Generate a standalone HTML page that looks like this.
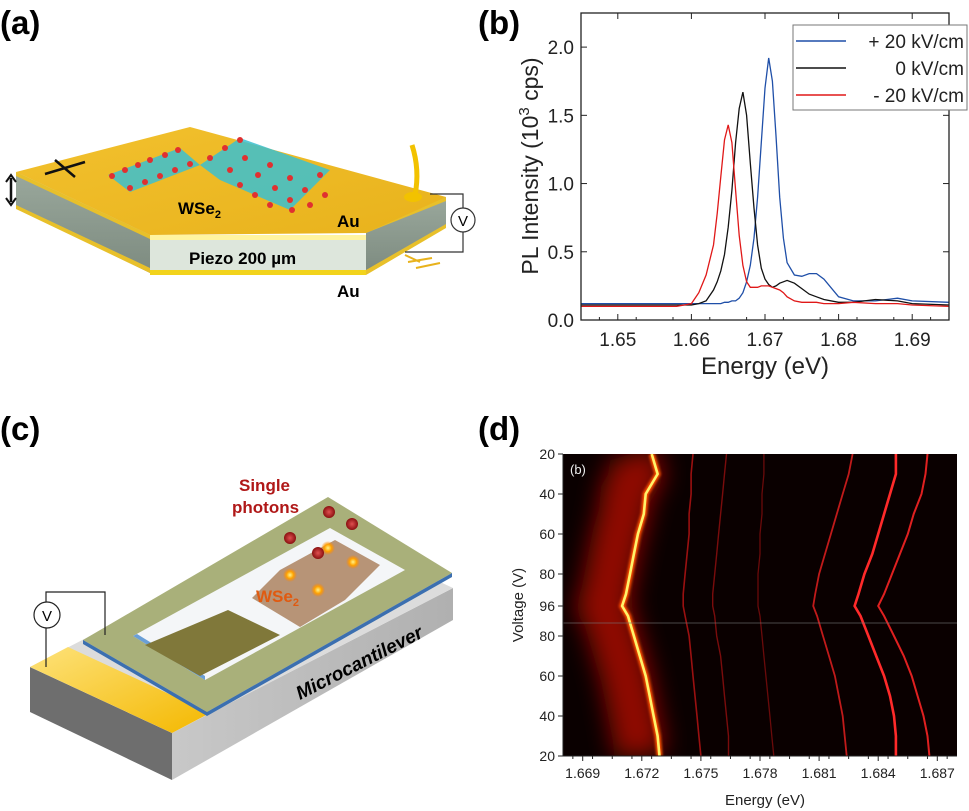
<!DOCTYPE html>
<html><head><meta charset="utf-8"><style>
html,body{margin:0;padding:0;background:#fff;}
svg{display:block;font-family:"Liberation Sans",Arial,sans-serif;}
</style></head><body>
<svg id="fig" width="969" height="811" viewBox="0 0 969 811" xmlns="http://www.w3.org/2000/svg">
<defs>
<filter id="blur2" filterUnits="userSpaceOnUse" x="480" y="400" width="489" height="411"><feGaussianBlur stdDeviation="1.2"/></filter>
<filter id="blur8" filterUnits="userSpaceOnUse" x="480" y="400" width="489" height="411"><feGaussianBlur stdDeviation="12"/></filter>
<linearGradient id="gold" x1="0" y1="0" x2="1" y2="1"><stop offset="0" stop-color="#f2c12e"/><stop offset="1" stop-color="#e8b21c"/></linearGradient>
<linearGradient id="side" x1="0" y1="0" x2="0" y2="1"><stop offset="0" stop-color="#9aa89c"/><stop offset="1" stop-color="#7d8b80"/></linearGradient>
<linearGradient id="grey" x1="0" y1="0" x2="1" y2="0"><stop offset="0" stop-color="#c8c8c8"/><stop offset="1" stop-color="#b0b0b0"/></linearGradient>
<linearGradient id="goldc" x1="0" y1="0" x2="1" y2="1"><stop offset="0" stop-color="#fde27a"/><stop offset="1" stop-color="#f4b800"/></linearGradient>
<radialGradient id="glowdot"><stop offset="0" stop-color="#fff38a"/><stop offset="0.5" stop-color="#ffa200"/><stop offset="1" stop-color="#ff8000" stop-opacity="0"/></radialGradient>
<radialGradient id="photon"><stop offset="0" stop-color="#e05050"/><stop offset="1" stop-color="#8a1010"/></radialGradient>
</defs>

<text x="0" y="34" font-size="33" font-weight="bold">(a)</text>
<text x="478" y="34" font-size="33" font-weight="bold">(b)</text>
<text x="0" y="440" font-size="33" font-weight="bold">(c)</text>
<text x="478" y="440" font-size="33" font-weight="bold">(d)</text>

<g>
  <polygon points="16,172 150,235 150,273 16,208" fill="url(#side)"/>
  <polygon points="16,172 150,235 150,239 16,176" fill="#e8c02a"/>
  <polygon points="16,205 150,268 150,273 16,209" fill="#e8c02a"/>
  <rect x="150" y="235" width="216" height="40" fill="#dde6dc"/>
  <rect x="150" y="235" width="216" height="5" fill="#fff4a0"/>
  <rect x="150" y="270" width="216" height="5" fill="#f2d31c"/>
  <polygon points="366,229 446,197 446,227 366,273" fill="url(#side)"/>
  <polygon points="366,229 446,197 446,201 366,233" fill="#e8c02a"/>
  <polygon points="366,270 446,224 446,228 366,275" fill="#e8c02a"/>
  <polygon points="16,172 190,127 446,197 366,233 150,235" fill="url(#gold)"/>
  <g>
    <polygon points="108,175 180,148 200,165 130,192" fill="#3bbfd0" opacity="0.85"/>
    <polygon points="200,165 240,138 330,170 290,210 220,180" fill="#3bbfd0" opacity="0.85"/>
    <g fill="#e03030">
      <circle cx="112" cy="176" r="3"/><circle cx="125" cy="170" r="3"/><circle cx="138" cy="165" r="3"/><circle cx="150" cy="160" r="3"/><circle cx="165" cy="155" r="3"/><circle cx="178" cy="150" r="3"/>
      <circle cx="130" cy="188" r="3"/><circle cx="145" cy="182" r="3"/><circle cx="160" cy="176" r="3"/><circle cx="175" cy="170" r="3"/><circle cx="190" cy="164" r="3"/>
      <circle cx="210" cy="158" r="3"/><circle cx="225" cy="148" r="3"/><circle cx="240" cy="140" r="3"/><circle cx="230" cy="170" r="3"/><circle cx="245" cy="158" r="3"/>
      <circle cx="240" cy="185" r="3"/><circle cx="258" cy="175" r="3"/><circle cx="270" cy="165" r="3"/><circle cx="255" cy="195" r="3"/><circle cx="275" cy="188" r="3"/>
      <circle cx="290" cy="178" r="3"/><circle cx="270" cy="205" r="3"/><circle cx="290" cy="200" r="3"/><circle cx="305" cy="190" r="3"/><circle cx="320" cy="175" r="3"/>
      <circle cx="292" cy="210" r="3"/><circle cx="310" cy="205" r="3"/><circle cx="325" cy="195" r="3"/>
    </g>
  </g>
  <text x="178" y="214" font-size="17" font-weight="bold">WSe<tspan font-size="11" dy="4">2</tspan></text>
  <text x="337" y="227" font-size="17" font-weight="bold">Au</text>
  <text x="189" y="264" font-size="17" font-weight="bold">Piezo 200 µm</text>
  <text x="337" y="297" font-size="17" font-weight="bold">Au</text>
  <path d="M412,145 Q420,170 415,195" stroke="#f2c200" stroke-width="5" fill="none"/>
  <ellipse cx="413" cy="197" rx="9" ry="5" fill="#f2c200"/>
  <path d="M430,194 H463 V252 H405" stroke="#333" stroke-width="1.2" fill="none"/>
  <circle cx="463" cy="220" r="12" fill="#fff" stroke="#333" stroke-width="1.2"/>
  <text x="463" y="226" font-size="15" text-anchor="middle">V</text>
  <path d="M405,255 L420,262 M408,262 L432,258 M416,268 L440,263" stroke="#e8b21c" stroke-width="2"/>
  <path d="M45,174 L85,162 M55,160 L75,177" stroke="#111" stroke-width="2.5"/>
  <path d="M11,178 V202" stroke="#111" stroke-width="2.5"/>
  <path d="M6,182 L11,175 L16,182 M6,198 L11,205 L16,198" stroke="#111" stroke-width="2" fill="none"/>
</g>

<g>
  <polygon points="30,667 172,733 172,780 30,712" fill="#6e6e6e"/>
  <polygon points="172,733 453,588 453,620 172,780" fill="url(#grey)"/>
  <polygon points="30,667 172,733 453,588 311,522" fill="#dcdcdc"/>
  <polygon points="30,667 172,733 210,713 68,647" fill="url(#goldc)"/>
  <polygon points="83,640 207,712 452,573 328,497" fill="#a9b07a"/>
  <polygon points="83,640 207,712 207,716 83,644" fill="#3b6fb0"/>
  <polygon points="207,712 452,573 452,577 207,716" fill="#3b6fb0"/>
  <polygon points="133,636 205,680 405,570 330,528" fill="#f4f6f8"/>
  <polygon points="133,636 205,680 205,676 137,634" fill="#6a9fd6"/>
  <polygon points="145,645 200,676 280,635 228,610" fill="#80783a"/>
  <polygon points="252,598 300,627 345,600 380,565 335,540 280,570" fill="#b08a68" opacity="0.9"/>
  <text x="239" y="491" font-size="17" font-weight="bold" fill="#b01818">Single</text>
  <text x="232" y="513" font-size="17" font-weight="bold" fill="#b01818">photons</text>
  <text x="256" y="602" font-size="17" font-weight="bold" fill="#e05a10">WSe<tspan font-size="11" dy="4">2</tspan></text>
  <circle cx="290" cy="575" r="7" fill="url(#glowdot)"/><circle cx="318" cy="590" r="7" fill="url(#glowdot)"/>
  <circle cx="328" cy="548" r="7" fill="url(#glowdot)"/><circle cx="353" cy="562" r="7" fill="url(#glowdot)"/>
  <circle cx="290" cy="538" r="6" fill="url(#photon)"/><circle cx="318" cy="553" r="6" fill="url(#photon)"/>
  <circle cx="329" cy="512" r="6" fill="url(#photon)"/><circle cx="352" cy="524" r="6" fill="url(#photon)"/>
  <text transform="translate(300,700) rotate(-27)" font-size="19" font-weight="bold" font-style="italic">Microcantilever</text>
  <path d="M46,667 V592 H105 V635" stroke="#222" stroke-width="1.2" fill="none"/>
  <circle cx="47" cy="615" r="13" fill="#fff" stroke="#222" stroke-width="1.2"/>
  <text x="47" y="621" font-size="15" text-anchor="middle">V</text>
</g>

<g id="panelB"></g>
<g id="panelD"></g>
</svg>

<script>
const energiesB = [1.645,1.650,1.655,1.658,1.660,1.661,1.662,1.663,1.6635,1.664,1.6645,1.665,1.6655,1.666,1.6665,1.667,1.6675,1.668,1.6685,1.669,1.6695,1.670,1.6705,1.671,1.6715,1.672,1.6725,1.673,1.674,1.675,1.676,1.677,1.678,1.680,1.682,1.685,1.688,1.690,1.695];
const plPos20 = [.12,.12,.12,.12,.12,.12,.12,.12,.12,.12,.13,.13,.14,.14,.16,.20,.28,.40,.60,.90,1.30,1.70,1.92,1.75,1.35,.90,.60,.42,.33,.32,.34,.34,.30,.17,.14,.14,.16,.14,.13];
const plZero  = [.11,.11,.11,.11,.11,.12,.14,.22,.28,.36,.48,.68,.95,1.30,1.55,1.67,1.50,1.15,.82,.55,.38,.30,.26,.24,.25,.27,.28,.29,.27,.23,.19,.17,.15,.13,.13,.15,.14,.12,.11];
const plNeg20 = [.10,.10,.10,.10,.12,.20,.33,.55,.78,1.05,1.32,1.43,1.30,.95,.62,.40,.28,.24,.24,.24,.25,.25,.25,.24,.23,.22,.20,.17,.14,.13,.13,.13,.12,.12,.13,.12,.12,.11,.10];
const xTicksB = [1.65,1.66,1.67,1.68,1.69];
const yTicksB = [0.0,0.5,1.0,1.5,2.0];
const legendLabels = ["+ 20 kV/cm","0 kV/cm","-  20 kV/cm"];

const sweepVolt = [20,30,40,50,60,70,80,90,96,90,80,70,60,50,40,30,20];
const sweepUp   = [1,1,1,1,1,1,1,1,1,0,0,0,0,0,0,0,0];
const lineMain  = [1.6725,1.6728,1.6722,1.6721,1.6718,1.6716,1.6714,1.6712,1.6710,1.6713,1.6716,1.6719,1.6722,1.6724,1.6726,1.6728,1.6729];
const line2 = [1.6746,1.6745,1.6745,1.6744,1.6744,1.6743,1.6742,1.6741,1.6741,1.6742,1.6744,1.6745,1.6746,1.6747,1.6748,1.6749,1.6750];
const line3 = [1.6763,1.6762,1.6761,1.6760,1.6759,1.6758,1.6757,1.6756,1.6756,1.6757,1.6758,1.6760,1.6761,1.6762,1.6763,1.6764,1.6764];
const line4 = [1.6782,1.6782,1.6781,1.6781,1.6780,1.6780,1.6779,1.6779,1.6779,1.6780,1.6781,1.6782,1.6783,1.6784,1.6785,1.6786,1.6787];
const line5 = [1.6827,1.6825,1.6822,1.6819,1.6816,1.6813,1.6810,1.6808,1.6807,1.6809,1.6812,1.6815,1.6818,1.6820,1.6822,1.6823,1.6824];
const line6 = [1.6849,1.6849,1.6846,1.6843,1.6840,1.6837,1.6833,1.6830,1.6828,1.6831,1.6835,1.6839,1.6843,1.6846,1.6848,1.6849,1.6849];
const line7 = [1.6865,1.6864,1.6862,1.6858,1.6855,1.6851,1.6847,1.6843,1.6840,1.6843,1.6848,1.6853,1.6857,1.6860,1.6863,1.6865,1.6866];
const xTicksD = [1.669,1.672,1.675,1.678,1.681,1.684,1.687];
const yTickVolt = [20,40,60,80,96,80,60,40,20];
const yTickUp   = [1,1,1,1,1,0,0,0,0];

const NS="http://www.w3.org/2000/svg";
function mk(tag, attrs, parent){const e=document.createElementNS(NS,tag);for(const k in attrs)e.setAttribute(k,attrs[k]);parent.appendChild(e);return e;}

(function(){
const g=document.getElementById('panelB');
const L=581,R=949,T=13,B=320, xmin=1.645,xmax=1.695,ymin=0,ymax=2.25;
const xs=v=>L+(v-xmin)/(xmax-xmin)*(R-L);
const ys=v=>B-(v-ymin)/(ymax-ymin)*(B-T);
const series=[[plPos20,"#1f4fa8","series-plus-20"],[plZero,"#111","series-zero"],[plNeg20,"#e01818","series-minus-20"]];
series.forEach(s=>{
  const d=s[0].map((v,i)=>(i?"L":"M")+xs(energiesB[i]).toFixed(1)+","+ys(v).toFixed(1)).join(" ");
  const p=mk('path',{d:d,stroke:s[1],'stroke-width':1.3,fill:'none'},g);
  
  
});
const fr=mk('rect',{x:L,y:T,width:R-L,height:B-T,fill:'none',stroke:'#222','stroke-width':1.3},g);


xTicksB.forEach(v=>{
  mk('line',{x1:xs(v),x2:xs(v),y1:B,y2:B-6,stroke:'#222'},g);
  mk('line',{x1:xs(v),x2:xs(v),y1:T,y2:T+6,stroke:'#222'},g);
  const t=mk('text',{x:xs(v),y:B+26,'font-size':19,'text-anchor':'middle',fill:'#222'},g);
  t.textContent=v.toFixed(2);
  
  
});
for(let v=1.6475; v<1.695; v+=0.005){ mk('line',{x1:xs(v),x2:xs(v),y1:B,y2:B-3,stroke:'#222'},g); }
yTicksB.forEach(v=>{
  mk('line',{x1:L,x2:L+6,y1:ys(v),y2:ys(v),stroke:'#222'},g);
  mk('line',{x1:R,x2:R-6,y1:ys(v),y2:ys(v),stroke:'#222'},g);
  const t=mk('text',{x:L-7,y:ys(v)+7,'font-size':19,'text-anchor':'end',fill:'#222'},g);
  t.textContent=v.toFixed(1);
  
  
});
const xt=mk('text',{x:765,y:374,'font-size':24,'text-anchor':'middle',fill:'#222'},g);
xt.textContent="Energy (eV)";


const yt=mk('text',{transform:'translate(538,166) rotate(-90)','font-size':23,'text-anchor':'middle',fill:'#222'},g);
yt.innerHTML='PL Intensity (10<tspan font-size="15" dy="-9">3</tspan><tspan dy="9"> cps)</tspan>';


const lg=mk('rect',{x:793,y:25,width:174,height:85,fill:'#fff',stroke:'#777','stroke-width':1},g);


legendLabels.forEach((lab,i)=>{
  const y=41+i*27;
  mk('line',{x1:796,x2:846,y1:y,y2:y,stroke:series[i][1],'stroke-width':1.5},g);
  const t=mk('text',{x:964,y:y+7,'font-size':19,'text-anchor':'end',fill:'#222'},g);
  t.textContent=lab;
  
  
});
})();

(function(){
const g=document.getElementById('panelD');
const L=563,R=957,T=454,B=756, emin=1.668,emax=1.688;
const xs=e=>L+(e-emin)/(emax-emin)*(R-L);
const ys=(v,up)=>up?T+(v-20)*2:B-(v-20)*2;
mk('rect',{x:L,y:T,width:R-L,height:B-T,fill:'#0a0000'},g);
const clip=mk('clipPath',{id:'dclip'},g);
mk('rect',{x:L,y:T,width:R-L,height:B-T},clip);
const inner=mk('g',{'clip-path':'url(#dclip)'},g);
function pathOf(arr){return arr.map((e,i)=>(i?"L":"M")+xs(e).toFixed(1)+","+ys(sweepVolt[i],sweepUp[i]).toFixed(1)).join(" ");}
const gl=mk('path',{d:pathOf(lineMain),stroke:'#b01000','stroke-width':50,fill:'none',filter:'url(#blur8)',opacity:0.8,transform:'translate(-20,0)'},inner);


const faint=[[line2,"#9a1010",1.6],[line3,"#7a0c0c",1.4],[line4,"#6a0a0a",1.3],[line5,"#c01a1a",1.8],[line6,"#ff2a2a",2.6],[line7,"#e02020",2.0]];
faint.forEach((f,i)=>{
  const p=mk('path',{d:pathOf(f[0]),stroke:f[1],'stroke-width':f[2],fill:'none'},inner);
  
  
});
const m1=mk('path',{d:pathOf(lineMain),stroke:'#ff5000','stroke-width':6,fill:'none',filter:'url(#blur2)'},inner);


const m2=mk('path',{d:pathOf(lineMain),stroke:'#fff36a','stroke-width':2.6,fill:'none'},inner);


mk('line',{x1:L,x2:R,y1:623,y2:623,stroke:'#777','stroke-width':1,opacity:0.6},inner);
const lb=mk('text',{x:570,y:474,'font-size':13,fill:'#eee'},g); lb.textContent="(b)";


mk('line',{x1:L,x2:R,y1:B,y2:B,stroke:'#222'},g);
mk('line',{x1:L,x2:L,y1:T,y2:B,stroke:'#222'},g);
xTicksD.forEach(v=>{
  mk('line',{x1:xs(v),x2:xs(v),y1:B,y2:B+5,stroke:'#222'},g);
  const t=mk('text',{x:xs(v),y:B+22,'font-size':14,'text-anchor':'middle',fill:'#222'},g);
  t.textContent=v.toFixed(3);
  
  
});
for(let v=1.6685; v<1.688; v+=0.001){ mk('line',{x1:xs(v),x2:xs(v),y1:B,y2:B+3,stroke:'#222'},g); }
yTickVolt.forEach((v,i)=>{
  const y=ys(v,yTickUp[i]);
  mk('line',{x1:L-5,x2:L,y1:y,y2:y,stroke:'#222'},g);
  const t=mk('text',{x:L-8,y:y+5,'font-size':14,'text-anchor':'end',fill:'#222'},g);
  t.textContent=v;
  
  
});
const xt=mk('text',{x:765,y:805,'font-size':15,'text-anchor':'middle',fill:'#222'},g);
xt.textContent="Energy (eV)";


const yt=mk('text',{transform:'translate(523,605) rotate(-90)','font-size':15,'text-anchor':'middle',fill:'#222'},g);
yt.textContent="Voltage (V)";


})();
</script>
</body></html>
